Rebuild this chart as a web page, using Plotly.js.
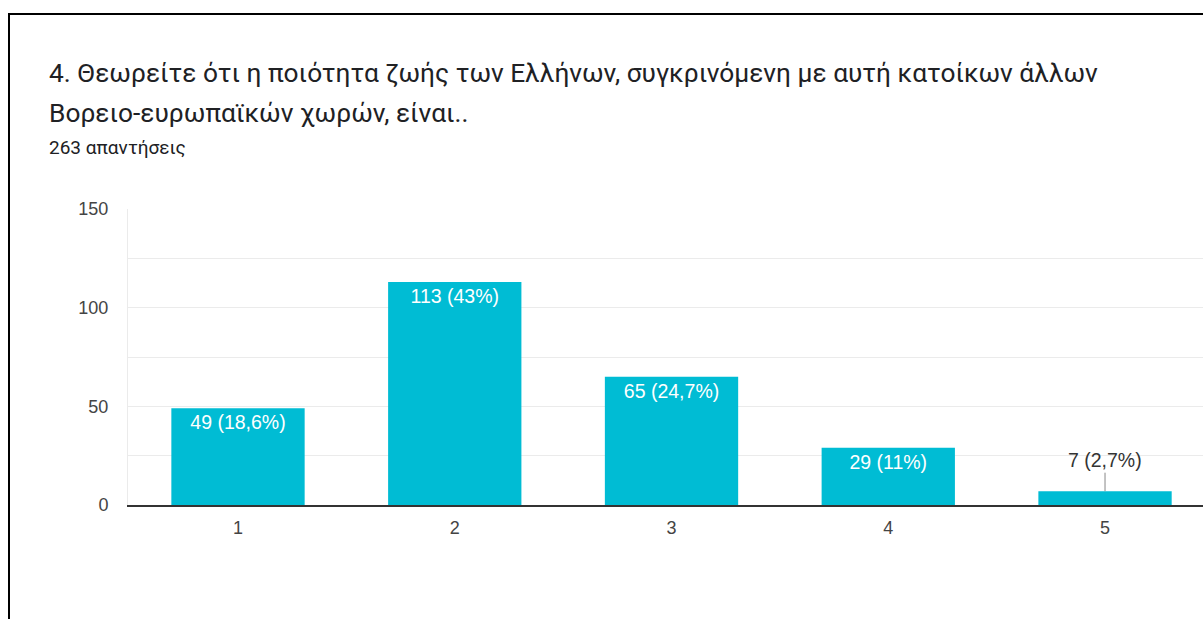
<!DOCTYPE html>
<html>
<head>
<meta charset="utf-8">
<script src="https://cdn.plot.ly/plotly-3.0.1.min.js"></script>
<style>
  html, body { margin: 0; padding: 0; background: #fff; overflow: hidden; }
  #chart { width: 1203px; height: 619px; }
  #frame { position: absolute; left: 8px; top: 13px; right: -10px; bottom: -10px;
           border-left: 2px solid #000; border-top: 2px solid #000; pointer-events: none; }
</style>
</head>
<body>
<div id="chart"></div>
<div id="frame"></div>
<script>
// ---- data ----
const categories = ['1', '2', '3', '4', '5'];
const counts = [49, 113, 65, 29, 7];
const percentLabels = ['18,6%', '43%', '24,7%', '11%', '2,7%'];
const titleLines = [
  '4. Θεωρείτε ότι η ποιότητα ζωής των Ελλήνων, συγκρινόμενη με αυτή κατοίκων άλλων',
  'Βορειο-ευρωπαϊκών χωρών, είναι..'
];
const subtitle = '263 απαντήσεις';
const yTickVals = [0, 25, 50, 75, 100, 125, 150];
const yTickText = ['0', '', '50', '', '100', '', '150'];

// ---- layout helpers ----
const W = 1203, H = 619;
const L = 128, T = 209, B = 505;
const plotW = W - L, plotH = B - T;
const px = x => (x - L) / plotW;
const py = y => (B - y) / plotH;

const labels = counts.map((c, i) => c + ' (' + percentLabels[i] + ')');
const insideIdx = counts.map((c, i) => c >= 20);
const numFont = 'Liberation Sans, Arial, sans-serif';

const trace = {
  type: 'bar',
  x: categories.map(Number),
  y: counts,
  marker: { color: '#00bcd4' },
  width: 0.615,
  text: labels.map((t, i) => insideIdx[i] ? t : ''),
  textposition: 'inside',
  insidetextanchor: 'end',
  textangle: 0,
  insidetextfont: { family: numFont, size: 19.5, color: '#ffffff' },
  hoverinfo: 'none',
  cliponaxis: false
};

const annotations = [
  { xref: 'paper', yref: 'paper', x: px(47), y: py(73), xanchor: 'left', yanchor: 'middle',
    text: titleLines[0], showarrow: false,
    font: { family: 'Roboto, sans-serif', size: 26.3, color: '#202124' } },
  { xref: 'paper', yref: 'paper', x: px(47), y: py(113), xanchor: 'left', yanchor: 'middle',
    text: titleLines[1], showarrow: false,
    font: { family: 'Roboto, sans-serif', size: 26.3, color: '#202124' } },
  { xref: 'paper', yref: 'paper', x: px(47), y: py(147), xanchor: 'left', yanchor: 'middle',
    text: subtitle, showarrow: false,
    font: { family: 'Roboto, sans-serif', size: 19, color: '#202124' } }
];

counts.forEach((c, i) => {
  if (!insideIdx[i]) {
    annotations.push({
      x: Number(categories[i]), y: c, xref: 'x', yref: 'y',
      text: labels[i], showarrow: true, arrowhead: 0, arrowwidth: 1,
      arrowcolor: '#888', ax: 0, ay: -31,
      font: { family: numFont, size: 19.5, color: '#333333' }
    });
  }
});

const layout = {
  width: W, height: H,
  margin: { l: L, r: 0, t: T, b: H - B, pad: 0 },
  paper_bgcolor: '#ffffff',
  plot_bgcolor: '#ffffff',
  showlegend: false,
  xaxis: {
    range: [0.4925, 5.452],
    tickvals: categories.map(Number),
    ticktext: categories,
    showgrid: false,
    zeroline: false,
    showline: true,
    linecolor: '#333333',
    linewidth: 1.5,
    ticks: '',
    ticklabelstandoff: 6,
    tickfont: { family: numFont, size: 18, color: '#444444' },
    fixedrange: true
  },
  yaxis: {
    range: [0, 150],
    tickvals: yTickVals,
    ticktext: yTickText,
    showgrid: true,
    gridcolor: '#ebebeb',
    gridwidth: 1,
    zeroline: false,
    showline: true,
    linecolor: '#ebebeb',
    ticks: '',
    ticklabelstandoff: 15,
    tickfont: { family: numFont, size: 18, color: '#444444' },
    fixedrange: true
  },
  annotations: annotations
};

Plotly.newPlot('chart', [trace], layout, { displayModeBar: false, staticPlot: true });
</script>
</body>
</html>
